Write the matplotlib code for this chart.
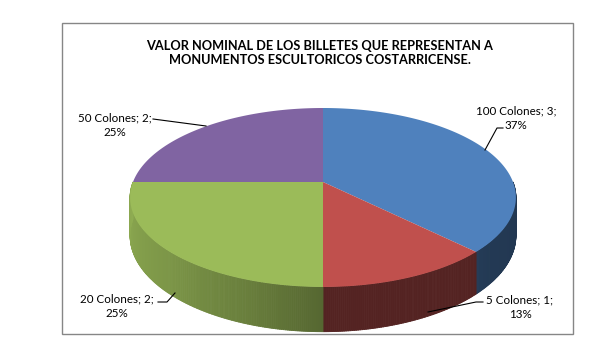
import numpy as np
import matplotlib.pyplot as plt
from matplotlib.patches import Polygon, Rectangle
from matplotlib.collections import PolyCollection

# data
categories = ['100 Colones', '5 Colones', '20 Colones', '50 Colones']
values = [3, 1, 2, 2]
percent_labels = ['37%', '13%', '25%', '25%']
colors = ['#4F81BD', '#C0504D', '#9BBB59', '#8064A2']
title = 'VALOR NOMINAL DE LOS BILLETES QUE REPRESENTAN A\nMONUMENTOS ESCULTORICOS COSTARRICENSE.'

# layout of the 3d pie (pixel space)
CX, CY = 323, 182
RX = 190
A = 86.8
K = 0.173
H = 37

label_pos = [(516, 118), (520, 307), (117, 306), (115, 125)]
leaders = [
    [(485, 150), (497, 128), (503, 128)],
    [(483, 302), (476, 302), (428, 312)],
    [(158, 302), (167, 302), (175, 293)],
    [(153, 119), (206, 126)],
]


def project(theta, drop=0.0):
    t = np.radians(theta)
    zw = -np.cos(t)
    s = 1.0 / (1 - K * zw)
    return CX + RX * np.sin(t) * s, CY + A * zw * s + drop * s


def side_shade(theta):
    return np.interp(theta, [90, 135, 150, 180, 200, 225, 270],
                     [0.42, 0.45, 0.47, 0.55, 0.68, 0.8, 0.92])


fig = plt.figure(figsize=(6.14, 3.6), dpi=100)
ax = fig.add_axes([0, 0, 1, 1])
ax.set_xlim(0, 614)
ax.set_ylim(360, 0)
ax.axis('off')

ax.add_patch(Rectangle((62, 23), 511, 311, fill=False, edgecolor='#868686', lw=1.0))

total = sum(values)
bounds = np.concatenate([[0], np.cumsum(values) / total * 360])

# side walls (front half only)
for i in range(len(values)):
    lo = max(bounds[i], 90)
    hi = min(bounds[i + 1], 270)
    if hi <= lo:
        continue
    base = np.array(plt.matplotlib.colors.to_rgb(colors[i]))
    angs = np.linspace(lo, hi, int((hi - lo) * 2) + 2)
    quads = []
    cols = []
    for a0, a1 in zip(angs[:-1], angs[1:]):
        x0, y0 = project(a0)
        x1, y1 = project(a1)
        x2, y2 = project(a1, H)
        x3, y3 = project(a0, H)
        quads.append([(x0, y0), (x1, y1), (x2, y2), (x3, y3)])
        f = side_shade((a0 + a1) / 2)
        if i == 1:
            f = 0.44
        cols.append(np.clip(base * f, 0, 1))
    ax.add_collection(PolyCollection(quads, facecolors=cols, edgecolors=cols, linewidths=0.6))

# top faces
for i in range(len(values)):
    angs = np.linspace(bounds[i], bounds[i + 1], 120)
    pts = [(CX, CY)] + [project(a) for a in angs]
    ax.add_patch(Polygon(pts, closed=True, facecolor=colors[i], edgecolor='none'))

ax.text(320, 53, title, ha='center', va='center', fontsize=9.2, fontweight='bold',
        family='Lato', linespacing=1.3)

for i in range(len(values)):
    txt = f'{categories[i]}; {values[i]};\n{percent_labels[i]}'
    ax.text(label_pos[i][0], label_pos[i][1], txt, ha='center', va='center',
            fontsize=8.4, family='Lato', linespacing=1.4)
    xs, ys = zip(*leaders[i])
    ax.plot(xs, ys, color='black', lw=0.8)

fig.savefig('out.png', dpi=100)
